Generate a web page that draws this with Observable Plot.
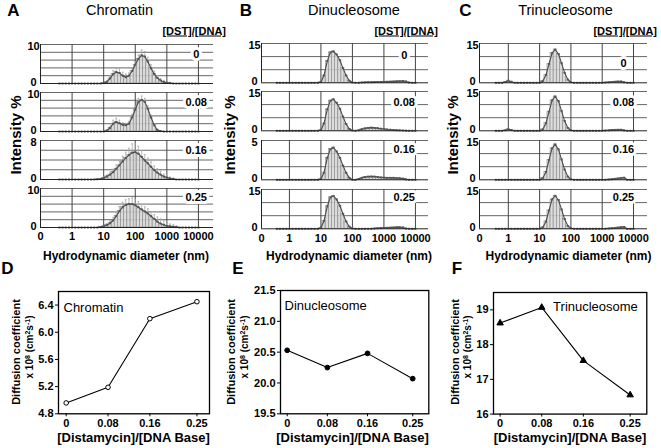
<!DOCTYPE html>
<html><head><meta charset="utf-8">
<script src="https://cdn.jsdelivr.net/npm/d3@7"></script>
<script src="https://cdn.jsdelivr.net/npm/@observablehq/plot@0.6"></script>
<style>
body{margin:0;background:#fff;}
#fig{position:relative;width:661px;height:448px;overflow:hidden;font-family:"Liberation Sans",Arial,sans-serif;color:#000;background:#fff;}
#fig svg{position:absolute;overflow:visible;}
.t{position:absolute;white-space:nowrap;line-height:1;}
.t sup{font-size:70%;line-height:0;vertical-align:0.45em;}
</style></head><body><div id="fig"></div>
<script>
// ---------- DATA ----------
// DLS size bins (nm)
const sizes = [0.4,0.5,0.63,0.8,1,1.25,1.6,2,2.5,3.15,4,5,6.3,8,
  10,12.5,16,20,25,31.5,40,50,63,80,
  100,125,160,200,250,315,400,500,630,800,
  1000,1250,1600,2000,2500,3150,4000,5000,6300,8000,
  10000];
const concLabels = ["0","0.08","0.16","0.25"];
const xTickLabels = ["0","1","10","100","1000","10000"];

// Chromatin intensity % (mean) and error
const chromatin0 = [0,0,0,0,0,0,0,0,0,0,0,0,0,0,
  0.1,0.4,1.3,2.4,2.9,2.7,2.0,1.6,2.0,3.2,
  4.8,6.3,7.2,6.9,5.6,3.9,2.4,1.4,0.8,0.4,
  0.2,0.1,0,0,0,0,0,0,0,0, 0];
const chromatinErr0 = [0,0,0,0,0,0,0,0,0,0,0,0,0,0,
  0.1,0.3,0.6,0.9,1.0,1.1,0.9,0.8,0.7,0.7,
  0.8,1.0,1.4,1.3,1.1,0.9,0.8,0.6,0.5,0.4,
  0.3,0.2,0,0,0,0,0,0,0,0, 0];
const chromatin008 = [0,0,0,0,0,0,0,0,0,0,0,0,0,0,
  0,0.2,0.9,2.0,2.4,2.1,1.7,1.6,2.0,3.6,
  5.6,7.5,8.1,7.6,5.8,3.6,1.6,0.4,0.1,0,
  0,0,0,0,0,0,0,0,0,0, 0];
const chromatinErr008 = [0,0,0,0,0,0,0,0,0,0,0,0,0,0,
  0,0.2,0.5,0.9,1.0,0.8,0.6,0.5,0.6,0.8,
  0.9,1.0,1.0,0.9,0.8,0.6,0.4,0.2,0.1,0,
  0,0,0,0,0,0,0,0,0,0, 0];
const chromatin016 = [0,0,0,0,0,0,0,0,0,0,0,0,0.05,0.1,
  0.3,0.6,1.0,1.5,2.2,2.9,3.7,4.4,5.0,5.5,
  5.6,5.3,4.6,3.9,3.3,2.6,1.9,1.4,1.0,0.6,
  0.4,0.2,0.1,0,0,0,0,0,0,0, 0];
const chromatinErr016 = [0,0,0,0,0,0,0,0,0,0,0,0,0,0,
  0.2,0.3,0.5,0.6,0.8,0.9,1.1,1.2,1.4,1.8,
  1.9,1.5,1.3,1.2,1.1,1.0,0.9,0.8,0.7,0.5,
  0.4,0.3,0.2,0,0,0,0,0,0,0, 0];
const chromatin025 = [0,0,0,0,0,0,0,0,0,0,0,0,0,0.1,
  0.3,0.6,1.1,1.8,2.9,4.2,5.2,5.8,6.0,6.0,
  5.7,5.2,4.6,4.1,3.6,2.9,2.2,1.5,1.0,0.7,
  0.4,0.3,0.2,0.1,0,0,0,0,0,0, 0];
const chromatinErr025 = [0,0,0,0,0,0,0,0,0,0,0,0,0,0,
  0.2,0.4,0.6,0.8,1.0,1.2,1.3,1.3,1.4,1.6,
  1.5,1.4,1.3,1.2,1.2,1.1,1.1,1.2,1.2,1.0,
  0.8,0.6,0.5,0.3,0,0,0,0,0,0, 0];

// Dinucleosome intensity %
const dinuc0 = [0,0,0,0,0,0,0,0,0,0,0,0,0,0,
  0.3,2.8,8.3,11.6,12.0,10.8,8.6,5.6,2.8,0.8,
  0.1,0,0,0.1,0.15,0.2,0.2,0.25,0.3,0.3,
  0.35,0.4,0.45,0.5,0.55,0.6,0.7,0.5,0.1,0, 0];
const dinuc008 = [0,0,0,0,0,0,0,0,0,0,0,0,0,0,
  0.3,2.8,8.2,11.5,12.0,10.7,8.4,5.4,2.6,0.7,
  0.1,0,0.2,0.6,0.9,1.1,1.2,1.1,1.0,0.8,
  0.7,0.5,0.4,0.3,0.2,0.15,0.1,0.05,0,0, 0];
const dinuc016 = [0,0,0,0,0,0,0,0,0,0,0,0,0,0,
  0.1,0.9,2.8,3.9,4.1,3.6,2.8,1.8,0.9,0.25,
  0,0,0.1,0.25,0.35,0.4,0.42,0.4,0.35,0.3,
  0.28,0.25,0.25,0.25,0.22,0.2,0.15,0.05,0,0, 0];
const dinuc025 = [0,0,0,0,0,0,0,0,0,0,0,0,0,0,
  0.4,3.0,8.6,12.0,12.5,11.2,8.8,5.7,2.8,0.8,
  0.1,0,0,0,0,0,0,0.1,0.2,0.3,
  0.35,0.4,0.45,0.5,0.55,0.6,0.5,0.1,0,0, 0];

// Trinucleosome intensity %
const trinuc0 = [0,0,0,0.3,0.8,0.4,0,0,0,0,0,0,0,0,
  0,0.6,3.0,7.2,11.3,12.7,11.0,7.5,3.8,1.2,
  0.2,0,0,0,0,0,0,0,0,0,
  0,0.1,0.2,0.3,0.4,0.5,0.5,0.2,0,0, 0];
const trinuc008 = [0,0,0,0.2,0.6,0.3,0,0,0,0,0,0,0,0,
  0,0.5,2.9,7.3,11.6,13.1,11.3,7.6,3.7,1.1,
  0.2,0,0,0,0,0,0,0,0,0,
  0,0.1,0.15,0.25,0.35,0.4,0.4,0.15,0,0, 0];
const trinuc016 = [0,0,0,0,0,0,0,0,0,0,0,0,0,0,
  0,0.6,3.0,7.6,12.0,13.5,11.6,7.8,3.9,1.2,
  0.2,0,0,0,0,0,0,0,0,0,
  0,0,0.1,0.2,0.35,0.5,0.7,0.8,0,0, 0];
const trinuc025 = [0,0,0,0,0,0,0,0,0,0,0,0,0,0,
  0,0.5,2.8,7.0,11.2,12.6,11.0,7.4,3.7,1.1,
  0.2,0,0,0,0,0,0,0,0,0,
  0,0,0.1,0.2,0.3,0.45,0.6,0.7,0,0, 0];

// Diffusion coefficients (x10^8 cm^2 s^-1)
const dstRatio = [0, 0.08, 0.16, 0.25];
const diffChromatin = [4.96, 5.19, 6.20, 6.45];
const diffDinuc = [20.53, 20.25, 20.48, 20.07];
const diffTrinuc = [18.62, 19.07, 17.54, 16.55];

// ---------- LAYOUT ----------
const FONT = '"Liberation Sans", Arial, sans-serif';
const fig = document.getElementById("fig");
function place(svg, left, top){ svg.style.left = left+"px"; svg.style.top = top+"px"; fig.appendChild(svg); }
function addText(html, x, y, o={}){
  const el = document.createElement("div");
  el.className = "t"; el.innerHTML = html;
  el.style.left = x+"px"; el.style.top = y+"px";
  el.style.fontSize = (o.size||11)+"px";
  el.style.fontWeight = o.weight||"bold";
  if (o.underline) el.style.textDecoration = "underline";
  const tx = o.anchor==="start" ? "0" : o.anchor==="end" ? "-100%" : "-50%";
  el.style.transform = `translate(${tx},-50%)` + (o.rotate ? " rotate(-90deg)" : "");
  fig.appendChild(el);
}

function histRow(p){
  const ML = 30, MR = 8, MT = 6, MB = p.last ? 22 : 4;
  const fw = p.fw, fh = p.fh;
  const rows = sizes.map((s,i)=>({s, v:p.data[i], e:p.err ? p.err[i] : 0}));
  const errRows = rows.filter(d=>d.e>0);
  const xticks = [p.xdom[0],1,10,100,1000,10000];
  const svg = Plot.plot({
    width: ML+fw+MR, height: MT+fh+MB,
    marginLeft: ML, marginRight: MR, marginTop: MT, marginBottom: MB,
    style: {background:"none", overflow:"visible", fontFamily:FONT, fontSize:"11px", fontWeight:"bold", color:"#000"},
    x: {type:"log", domain:p.xdom, axis: p.last ? "bottom" : null, ticks: xticks,
        tickFormat: (d)=>xTickLabels[xticks.indexOf(d)], tickSize:0, tickPadding:5, label:null},
    y: {domain:[0,p.ymax], axis:null},
    marks: [
      Plot.ruleY(p.ygrid, {stroke:"#555", strokeWidth:0.9}),
      Plot.ruleX([1,10,100,1000,10000], {stroke:"#444", strokeWidth:1}),
      Plot.ruleX(errRows, {x:"s", y1:"v", y2:d=>d.v+d.e, stroke:"#aaa", strokeWidth:0.8}),
      Plot.link(errRows, {x1:d=>d.s/1.07, x2:d=>d.s*1.07, y1:d=>d.v+d.e, y2:d=>d.v+d.e, stroke:"#aaa", strokeWidth:0.8}),
      Plot.rectY(rows.filter(d=>d.v>0), {x1:d=>d.s/1.12, x2:d=>d.s*1.12, y:"v", fill:"#d6d6d6", fillOpacity:0.85, stroke:"#8a8a8a", strokeWidth:0.6}),
      Plot.line(rows, {x:"s", y:"v", stroke:"#4a4a4a", strokeWidth:1.1}),
      Plot.dot(rows, {x:"s", y:"v", symbol:"square", r:1.1, fill:"#555", stroke:"none"}),
      Plot.ruleY([0], {stroke:"#222", strokeWidth:1}),
      Plot.ruleX([p.xdom[0]], {stroke:"#222", strokeWidth:1}),
      Plot.text([0], {x:p.xdom[0], y:0, text:()=>"0", dx:-7, dy:-1.5, textAnchor:"middle", fontWeight:"bold", fontSize:11}),
      Plot.text([p.ymax], {x:p.xdom[0], y:d=>d, text:()=>p.ylab, dx:-7, dy:2, textAnchor:"middle", fontWeight:"bold", fontSize:11}),
      Plot.text([p.conc], {x:p.cx, y:p.ymax*p.cfrac, text:d=>d, stroke:"white", strokeWidth:6, paintOrder:"stroke", fill:"#000", fontWeight:"bold", fontSize:11})
    ]
  });
  place(svg, p.left-ML, p.top-MT);
}

const panels = [
  {left:40, fw:173, xdom:[0.1,30000], tops:[44,91.5,140,187.5], fh:39,
   series:[chromatin0,chromatin008,chromatin016,chromatin025],
   errs:[chromatinErr0,chromatinErr008,chromatinErr016,chromatinErr025],
   ymax:[10,10,8,10], ylab:["10","10","8","10"],
   grids:[[2,4,6,8,10],[2,4,6,8,10],[2,4,6,8],[2,4,6,8,10]],
   cx:8500, cfrac:[0.75,0.74,0.75,0.76]},
  {left:261, fw:167, xdom:[0.13,26000], tops:[43.3,90.7,140,189.3], fh:39.3,
   series:[dinuc0,dinuc008,dinuc016,dinuc025], errs:[null,null,null,null],
   ymax:[15,15,5,15], ylab:["15","15","5","15"],
   grids:[[5,10,15],[5,10,15],[5/3,10/3,5],[5,10,15]],
   cx:4400, cfrac:[0.70,0.73,0.76,0.8]},
  {left:479, fw:168, xdom:[0.12,28000], tops:[43.3,90.7,140,188.8], fh:39.3,
   series:[trinuc0,trinuc008,trinuc016,trinuc025], errs:[null,null,null,null],
   ymax:[15,15,15,15], ylab:["15","15","15","15"],
   grids:[[5,10,15],[5,10,15],[5,10,15],[5,10,15]],
   cx:4800, cfrac:[0.49,0.73,0.76,0.8]}
];
panels.forEach(P=>{
  for (let r=0;r<4;r++){
    histRow({left:P.left, top:P.tops[r], fw:P.fw, fh:P.fh, xdom:P.xdom,
      data:P.series[r], err:P.errs[r], ymax:P.ymax[r], ylab:P.ylab[r], ygrid:P.grids[r],
      conc:concLabels[r], cx:P.cx, cfrac:P.cfrac[r], last:r===3});
  }
});

function diffPlot(p){
  const ML = 45, MR = 6, MT = 6, MB = 22;
  const fw = p.right-p.left, fh = p.bottom-p.top;
  const pts = dstRatio.map((c,i)=>({c, v:p.vals[i]}));
  const svg = Plot.plot({
    width: ML+fw+MR, height: MT+fh+MB,
    marginLeft: ML, marginRight: MR, marginTop: MT, marginBottom: MB,
    style: {background:"none", overflow:"visible", fontFamily:FONT, fontSize:"11px", fontWeight:"bold", color:"#000"},
    x: {domain:p.xdom, ticks:dstRatio, tickFormat:d=> d===0 ? "0" : String(d), tickSize:3, tickPadding:2, label:null},
    y: {domain:p.ydom, ticks:p.yticks, tickFormat:p.fmt, tickSize:3, tickPadding:2, label:null},
    marks: [
      Plot.frame({stroke:"#000", strokeWidth:1.3}),
      Plot.line(pts, {x:"c", y:"v", stroke:"#000", strokeWidth:1.1}),
      Plot.dot(pts, {x:"c", y:"v", r:p.r, symbol:p.symbol, fill:p.fill, stroke:"#000", strokeWidth:1}),
      Plot.text([p.name], {frameAnchor:p.anchor, dx:p.dx, dy:p.dy, textAnchor:p.tanchor, fontSize:13, fontWeight:"normal"})
    ]
  });
  place(svg, p.left-ML, p.top-MT);
}
diffPlot({left:58.3, right:209.3, top:290.7, bottom:413, xdom:[-0.0147,0.274], ydom:[4.8,6.6],
  yticks:[4.8,5.2,5.6,6.0,6.4], fmt:d3.format(".1f"), vals:diffChromatin, r:2.3, symbol:"circle", fill:"white",
  name:"Chromatin", anchor:"top-left", dx:5, dy:11, tanchor:"start"});
diffPlot({left:280, right:428.3, top:290, bottom:413.3, xdom:[-0.0133,0.282], ydom:[19.5,21.5],
  yticks:[19.5,20,20.5,21,21.5], fmt:d3.format(".1f"), vals:diffDinuc, r:2.4, symbol:"circle", fill:"black",
  name:"Dinucleosome", anchor:"top-left", dx:4, dy:10, tanchor:"start"});
diffPlot({left:492.7, right:646, top:291.7, bottom:413.3, xdom:[-0.0127,0.282], ydom:[16,19.5],
  yticks:[16,17,18,19], fmt:d3.format("d"), vals:diffTrinuc, r:2.4, symbol:"triangle", fill:"black",
  name:"Trinucleosome", anchor:"top-right", dx:-9, dy:9, tanchor:"end"});

// ---------- TEXT ----------
addText("A", 13.5, 9.5, {size:17});
addText("B", 246, 9.5, {size:17});
addText("C", 465.5, 9.5, {size:17});
addText("Chromatin", 119.5, 10, {size:14.5, weight:"normal"});
addText("Dinucleosome", 354, 10, {size:14.5, weight:"normal"});
addText("Trinucleosome", 565.5, 10, {size:14.5, weight:"normal"});
[226,438,657].forEach(x=>addText("[DST]/[DNA]", x, 31, {size:11, anchor:"end", underline:true}));
[14.5,228.5,452].forEach(x=>addText("Intensity %", x, 135, {size:15, rotate:true}));
[126,349,568.5].forEach(x=>addText("Hydrodynamic diameter (nm)", x, 256, {size:12}));
addText("D", 7.5, 267.5, {size:17});
addText("E", 238, 268, {size:17});
addText("F", 457, 268, {size:17});
[[16,30],[231,245],[455,468]].forEach(([a,b])=>{
  addText("Diffusion coefficient", a, 352, {size:11, rotate:true});
  addText("x 10<sup>8</sup> (cm<sup>2</sup>s<sup>-1</sup>)", b, 347, {size:10, rotate:true});
});
[133.5,352.5,570].forEach(x=>addText("[Distamycin]/[DNA Base]", x, 436.7, {size:13}));
</script></body></html>
